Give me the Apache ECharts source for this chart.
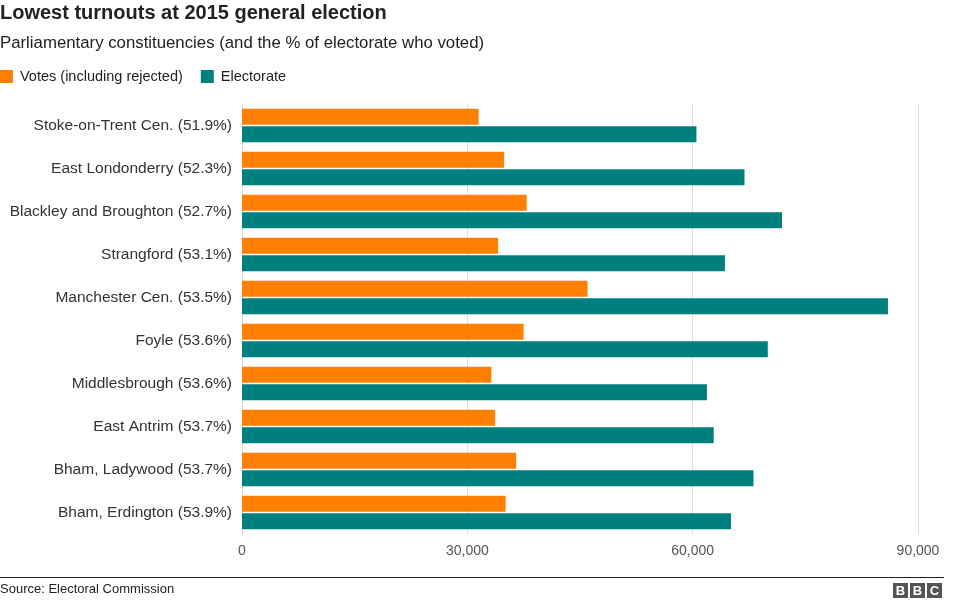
<!DOCTYPE html>
<html><head><meta charset="utf-8">
<script src="https://cdn.jsdelivr.net/npm/echarts@6/dist/echarts.min.js"></script>
<style>html,body{margin:0;padding:0;background:#fff}#c{width:976px;height:602px}</style>
</head><body><div id="c"></div>
<script>
const categories = ["Stoke-on-Trent Cen. (51.9%)","East Londonderry (52.3%)","Blackley and Broughton (52.7%)","Strangford (53.1%)","Manchester Cen. (53.5%)","Foyle (53.6%)","Middlesbrough (53.6%)","East Antrim (53.7%)","Bham, Ladywood (53.7%)","Bham, Erdington (53.9%)"];
const votes = [31500, 34900, 37900, 34100, 46000, 37500, 33200, 33700, 36500, 35100];
const electorate = [60500, 66900, 71900, 64300, 86000, 70000, 61900, 62800, 68100, 65100];
const xTicks = [0, 30000, 60000, 90000];

const chart = echarts.init(document.getElementById('c'));
const font = '"Liberation Sans", Arial, Helvetica, sans-serif';
chart.setOption({
  animation: false,
  textStyle: {fontFamily: font},
  title: [
    {text: 'Lowest turnouts at 2015 general election', left: 0, top: 3, padding: 0,
     textStyle: {fontFamily: font, fontSize: 20, fontWeight: 'bold', color: '#222'}},
    {text: 'Parliamentary constituencies (and the % of electorate who voted)', left: 0, top: 35, padding: 0,
     textStyle: {fontFamily: font, fontSize: 16.8, fontWeight: 'normal', color: '#222'}}
  ],
  legend: {
    left: 0, top: 69, padding: 0, itemWidth: 13, itemHeight: 13, itemGap: 18, icon: 'rect',
    textStyle: {fontFamily: font, fontSize: 14.5, color: '#222', padding: [0,0,0,2]},
    data: ['Votes (including rejected)', 'Electorate']
  },
  grid: {left: 242, right: 58, top: 104, bottom: 68, containLabel: false},
  xAxis: {
    type: 'value', min: 0, max: 90000, interval: 30000,
    axisLine: {show: false}, axisTick: {show: false},
    splitLine: {show: true, lineStyle: {color: '#dddddd', width: 1}},
    axisLabel: {color: '#555', fontSize: 14, fontFamily: font, margin: 10,
      formatter: v => xTicks.includes(v) ? v.toLocaleString('en-GB') : ''}
  },
  yAxis: {
    type: 'category', inverse: true, data: categories,
    axisLine: {show: true, lineStyle: {color: '#dddddd'}, onZero: false},
    axisTick: {show: false},
    axisLabel: {color: '#333', fontSize: 15.5, fontFamily: font, margin: 10}
  },
  series: [
    {name: 'Votes (including rejected)', type: 'bar', data: votes, barWidth: 16, barGap: '10%',
     itemStyle: {color: '#FF7F00'}},
    {name: 'Electorate', type: 'bar', data: electorate, barWidth: 16,
     itemStyle: {color: '#007F7F'}}
  ],
  graphic: [
    {type: 'line', shape: {x1: 0, y1: 577.5, x2: 944, y2: 577.5}, style: {stroke: '#222', lineWidth: 1}},
    {type: 'text', left: 0, top: 583, style: {text: 'Source: Electoral Commission', font: '13px ' + font, fill: '#222'}},
    {type: 'group', left: 893, top: 583, children: [
      {type: 'rect', shape: {x: 0, y: 0, width: 15, height: 15}, style: {fill: '#555'}},
      {type: 'rect', shape: {x: 17, y: 0, width: 15, height: 15}, style: {fill: '#555'}},
      {type: 'rect', shape: {x: 34, y: 0, width: 15, height: 15}, style: {fill: '#555'}},
      {type: 'text', x: 7.5, y: 8, style: {text: 'B', font: 'bold 13px ' + font, fill: '#fff', align: 'center', verticalAlign: 'middle'}},
      {type: 'text', x: 24.5, y: 8, style: {text: 'B', font: 'bold 13px ' + font, fill: '#fff', align: 'center', verticalAlign: 'middle'}},
      {type: 'text', x: 41.5, y: 8, style: {text: 'C', font: 'bold 13px ' + font, fill: '#fff', align: 'center', verticalAlign: 'middle'}}
    ]}
  ]
});
</script></body></html>
